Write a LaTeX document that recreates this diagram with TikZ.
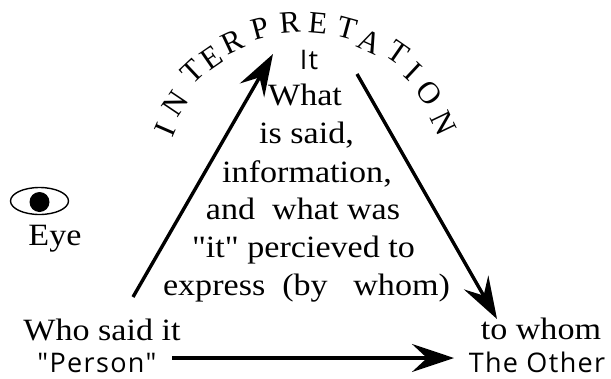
\documentclass[tikz,border=0pt]{standalone}
\usepackage{fontspec}
\usetikzlibrary{arrows.meta,shapes.geometric}
\newfontfamily\palfont[FakeStretch=1.1]{Liberation Serif}
\newfontfamily\arcfont{Liberation Serif}
\newfontfamily\sansfont[LetterSpace=5]{Open Sans}
\tikzset{
  body/.style={anchor=base,inner sep=0pt,font=\palfont\fontsize{31}{31}\selectfont},
  plain/.style={anchor=base,inner sep=0pt,font=\sansfont\fontsize{27}{27}\selectfont},
  arcletter/.style={anchor=center,inner sep=0pt,font=\arcfont\fontsize{31}{31}\selectfont},
  flow/.style={line width=3.4pt,-{Stealth[length=42pt,width=28pt,inset=15pt]}},
}
\begin{document}
\begin{tikzpicture}[x=1pt,y=-1pt]
\useasboundingbox (0,0) rectangle (611,378);
% curved title
\foreach \ch/\px/\py [count=\k] in {I/165/130,N/175/104,T/192/72,E/212/58,R/233/42,P/260/28,R/290/23,E/318/23,T/347/28,A/370/42,T/398/53,I/413/72,O/429/93,N/443/123}{
  \pgfmathsetmacro{\rot}{-atan2(\px-303,190-\py)}
  \node[arcletter,rotate=\rot] (letter\k) at (\px,\py) {\ch};
}
\node[plain] (it) at (309,69) {It};
\node[body] (what) at (305,105) {What};
\node[body] (said) at (306.5,143) {is said,};
\node[body] (info) at (307,182) {information,};
\node[body] (was) at (303,219) {and\ \ what was};
\node[body] (perc) at (303.5,257) {"it" percieved to};
\node[body] (expr) at (306.5,295) {express\ \ (by\ \ \ whom)};
\node[body] (who) at (102,340) {Who said it};
\node[plain] (person) at (97,372.5) {"Person"};
\node[body] (towhom) at (541,339) {to whom};
\node[plain] (other) at (537,372.5) {The Other};
\node[body] (eyelabel) at (55,245) {Eye};
% eye
\node[draw,line width=1.4pt,ellipse,minimum width=58pt,minimum height=27pt,inner sep=0pt] (eye) at (39.5,201) {};
\node[fill=black,circle,minimum size=20pt,inner sep=0pt] (pupil) at (39.5,202) {};
% connectors
\coordinate (a1) at (133,297);
\coordinate (a2) at (273,54);
\coordinate (b1) at (357,74);
\coordinate (b2) at (497,319);
\coordinate (c1) at (172,358);
\coordinate (c2) at (454,358);
\draw[flow] (a1) -- (a2);
\draw[flow] (b1) -- (b2);
\draw[flow] (c1) -- (c2);
\end{tikzpicture}
\end{document}
